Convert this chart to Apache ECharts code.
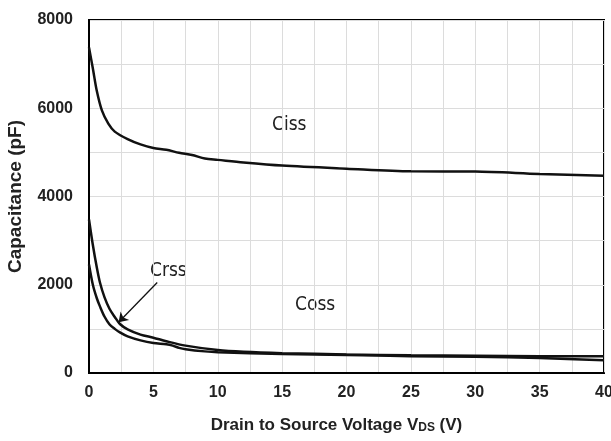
<!DOCTYPE html>
<html><head><meta charset="utf-8">
<script src="https://cdn.jsdelivr.net/npm/echarts@6/dist/echarts.min.js"></script>
<style>html,body{margin:0;padding:0;background:#fff}#c{width:611px;height:441px}</style>
</head><body><div id="c"></div>
<script>
const cissX = [0, 0.3, 0.6, 1, 1.5, 2, 3, 4, 5, 6, 7, 8, 9, 10, 12, 15, 20, 25, 30, 35, 40];
const cissY = [7380, 6900, 6400, 5950, 5650, 5470, 5300, 5180, 5100, 5060, 4990, 4940, 4860, 4830, 4770, 4700, 4630, 4570, 4565, 4510, 4470];
const crssX = [0, 0.3, 0.6, 0.85, 1.2, 1.6, 2, 2.4, 3, 4, 5, 6, 7.5, 10, 12, 15, 20, 25, 30, 35, 40];
const crssY = [3480, 2900, 2400, 2050, 1720, 1450, 1270, 1110, 990, 870, 800, 720, 620, 520, 480, 450, 420, 400, 390, 380, 380];
const cossX = [0, 0.3, 0.6, 0.85, 1.2, 1.6, 2, 2.4, 3, 4, 5, 6, 6.5, 7, 7.5, 9, 10, 15, 20, 25, 30, 35, 40];
const cossY = [2460, 2000, 1700, 1510, 1280, 1100, 1000, 920, 830, 740, 680, 650, 620, 570, 540, 490, 470, 430, 410, 380, 370, 340, 290];
const xTicks = [0, 5, 10, 15, 20, 25, 30, 35, 40];
const yTicks = [0, 2000, 4000, 6000, 8000];

const pairs = (xs, ys) => xs.map((x, i) => [x, ys[i]]);
const chart = echarts.init(document.getElementById('c'), null, {renderer: 'canvas'});
const FF = '"Liberation Sans Narrow", "DejaVu Sans Condensed", "Liberation Sans", Arial';
const lab = {fontFamily: 'Liberation Sans', fontWeight: 'bold', fontSize: 16, color: '#222'};
chart.setOption({
  animation: false,
  grid: {left: 89, right: 7, top: 20, bottom: 68, outerBoundsMode: 'none', containLabel: false,
         show: true, borderColor: '#000', borderWidth: 2, backgroundColor: 'transparent'},
  xAxis: {
    type: 'value', min: 0, max: 40, interval: 2.5,
    axisLine: {show: true, lineStyle: {color: '#000', width: 2}},
    axisTick: {show: false},
    splitLine: {show: true, lineStyle: {color: '#dcdcdc', width: 1}},
    axisLabel: Object.assign({margin: 12, formatter: v => xTicks.includes(v) ? String(v) : ''}, lab),
    name: '{a|Drain to Source Voltage V}{s|DS}{a| (V)}', nameLocation: 'middle', nameGap: 43,
    nameTextStyle: {padding: [0, 20, 0, 0], rich: {
      a: {fontFamily: 'Liberation Sans', fontWeight: 'bold', fontSize: 17, color: '#222'},
      s: {fontFamily: 'Liberation Sans', fontWeight: 'bold', fontSize: 12, color: '#222', padding: [6, 0, 0, 0]}
    }}
  },
  yAxis: {
    type: 'value', min: 0, max: 8000, interval: 1000,
    axisLine: {show: true, lineStyle: {color: '#000', width: 2}},
    axisTick: {show: false},
    splitLine: {show: true, lineStyle: {color: '#dcdcdc', width: 1}},
    axisLabel: Object.assign({margin: 16, formatter: v => yTicks.includes(v) ? String(v) : ''}, lab),
    name: 'Capacitance (pF)', nameLocation: 'middle', nameGap: 64,
    nameTextStyle: {fontFamily: 'Liberation Sans', fontWeight: 'bold', fontSize: 19, color: '#222'}
  },
  series: [
    {name: 'Ciss', type: 'line', data: pairs(cissX, cissY), smooth: 0.3, showSymbol: false, lineStyle: {color: '#111', width: 2.5}},
    {name: 'Crss', type: 'line', data: pairs(crssX, crssY), smooth: 0.3, showSymbol: false, lineStyle: {color: '#111', width: 2.5},
     markLine: {silent: true, symbol: ['none', 'arrow'], symbolSize: 9, label: {show: false},
       lineStyle: {color: '#111', width: 1.3, type: 'solid'},
       data: [[{coord: [5.3, 2050]}, {coord: [2.3, 1150]}]]}},
    {name: 'Coss', type: 'line', data: pairs(cossX, cossY), smooth: 0.3, showSymbol: false, lineStyle: {color: '#111', width: 2.5}}
  ],
  graphic: [
    {type: 'text', left: 272, top: 116, style: {text: 'Ciss', font: '19px ' + FF, fill: '#222'}},
    {type: 'text', left: 295, top: 296, style: {text: 'Coss', font: '19px ' + FF, fill: '#222'}},
    {type: 'text', left: 150, top: 262, style: {text: 'Crss', font: '19px ' + FF, fill: '#222'}}
  ]
});
</script></body></html>
